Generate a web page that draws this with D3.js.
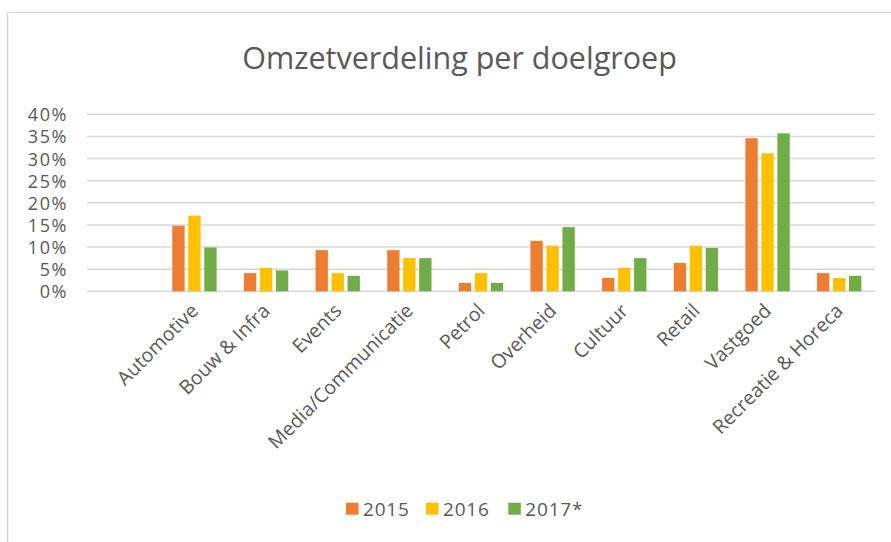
<!DOCTYPE html>
<html>
<head>
<meta charset="utf-8">
<script src="https://cdn.jsdelivr.net/npm/d3@7"></script>
<style>
  body { margin: 0; background: #fff; }
  text { font-family: "Open Sans", sans-serif; fill: #595959; }
</style>
</head>
<body>
<script>
// categories (Excel sheet had an empty first row, keeps a blank slot on the left)
const categories = ["Automotive", "Bouw & Infra", "Events", "Media/Communicatie", "Petrol",
  "Overheid", "Cultuur", "Retail", "Vastgoed", "Recreatie & Horeca"];
const series = ["2015", "2016", "2017*"];
const values2015 = [0.148, 0.041, 0.093, 0.093, 0.019, 0.114, 0.030, 0.064, 0.346, 0.041];
const values2016 = [0.171, 0.053, 0.041, 0.075, 0.041, 0.103, 0.053, 0.103, 0.312, 0.030];
const values2017 = [0.099, 0.047, 0.035, 0.075, 0.019, 0.145, 0.075, 0.098, 0.357, 0.035];
const yTicks = [0, 0.05, 0.10, 0.15, 0.20, 0.25, 0.30, 0.35, 0.40];
const colors = ["#ED7D31", "#FFC000", "#70AD47"];

const width = 891, height = 542;

const data = categories.map((c, i) => ({
  cat: c,
  vals: [values2015[i], values2016[i], values2017[i]]
}));

const svg = d3.select("body").append("svg")
  .attr("width", width)
  .attr("height", height);

svg.append("rect").attr("width", width).attr("height", height).attr("fill", "#fff");

// chart frame (only top and left edge visible)
svg.append("path")
  .attr("d", "M7.5,542 V12.5 H891")
  .attr("fill", "none")
  .attr("stroke", "#D9D9D9")
  .attr("stroke-width", 1.5);

// title
svg.append("text")
  .attr("x", 459.5)
  .attr("y", 69)
  .attr("text-anchor", "middle")
  .attr("font-size", 30.5)
  .text("Omzetverdeling per doelgroep");

// scales
const x = d3.scaleBand()
  .domain([""].concat(categories))
  .range([87, 875]);

const x1 = d3.scaleBand()
  .domain(series)
  .range([-24, 24])
  .paddingInner(0.23)
  .paddingOuter(0.115);

const y = d3.scaleLinear().domain([0, 0.4]).range([291.3, 114.3]);

// gridlines
svg.append("g")
  .selectAll("line")
  .data(yTicks)
  .join("line")
  .attr("x1", 87)
  .attr("x2", 875)
  .attr("y1", d => y(d))
  .attr("y2", d => y(d))
  .attr("stroke", "#D9D9D9")
  .attr("stroke-width", 1.5);

// y axis labels
const yAxis = svg.append("g")
  .attr("transform", "translate(68,0)")
  .call(d3.axisLeft(y).tickValues(yTicks).tickFormat(d3.format(".0%")).tickSize(0).tickPadding(0));
yAxis.select(".domain").remove();
yAxis.selectAll("text")
  .attr("font-size", 18)
  .attr("letter-spacing", 1.6)
  .attr("dy", "0.36em")
  .style("font-family", "'Open Sans', sans-serif")
  .attr("fill", "#595959");

// bars
const groups = svg.append("g")
  .selectAll("g")
  .data(data)
  .join("g")
  .attr("transform", d => "translate(" + (x(d.cat) + x.bandwidth() / 2) + ",0)");

groups.selectAll("rect")
  .data(d => d.vals.map((v, i) => ({ key: series[i], v: v, i: i })))
  .join("rect")
  .attr("x", d => x1(d.key))
  .attr("width", x1.bandwidth())
  .attr("y", d => y(d.v))
  .attr("height", d => y(0) - y(d.v))
  .attr("fill", d => colors[d.i]);

// x labels, rotated
svg.append("g")
  .selectAll("text")
  .data(categories)
  .join("text")
  .attr("transform", d => "translate(" + (x(d) + x.bandwidth() / 2 + 5) + ",312) rotate(-45)")
  .attr("text-anchor", "end")
  .attr("font-size", 19.5)
  .text(d => d);

// legend
const legend = svg.append("g")
  .selectAll("g")
  .data(series)
  .join("g")
  .attr("transform", (d, i) => "translate(" + [346, 426, 508.3][i] + ",0)");

legend.append("rect")
  .attr("y", 502.7)
  .attr("width", 12.5)
  .attr("height", 12)
  .attr("fill", (d, i) => colors[i]);

legend.append("text")
  .attr("x", 17)
  .attr("y", 516)
  .attr("font-size", 19)
  .attr("letter-spacing", 0.8)
  .text(d => d);
</script>
</body>
</html>
